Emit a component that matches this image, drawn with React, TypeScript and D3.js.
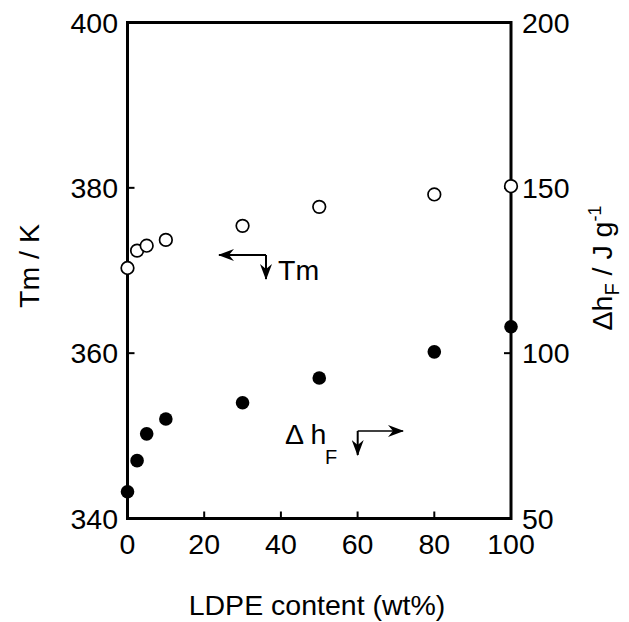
import React from "react";
import * as d3 from "d3";

const ldpe = [0, 2.5, 5, 10, 30, 50, 80, 100];
const tm = [370.3, 372.4, 373.0, 373.7, 375.4, 377.7, 379.2, 380.2];
const dh = [58.1, 67.5, 75.6, 80.1, 85.0, 92.5, 100.4, 108.0];
const xTicks = [0, 20, 40, 60, 80, 100];
const yLeftTicks = [340, 360, 380, 400];
const yRightTicks = [50, 100, 150, 200];

const W = 629;
const H = 622;
const L = 127.5, R = 511, T = 22.5, B = 518.5;
const FONT = "'Liberation Sans', Arial, Helvetica, sans-serif";

export default function App() {
  const x = d3.scaleLinear().domain([0, 100]).range([L, R]);
  const yL = d3.scaleLinear().domain([340, 400]).range([B, T]);
  const yR = d3.scaleLinear().domain([50, 200]).range([B, T]);
  const fs = 28.5;
  return (
    <svg width={W} height={H} style={{ position: "absolute", left: 0, top: 0, background: "#fff" }} fontFamily={FONT}>
      <rect x={0} y={0} width={W} height={H} fill="#fff" />
      {xTicks.slice(1, -1).map((t) => (
        <line key={"xt" + t} x1={x(t)} x2={x(t)} y1={B} y2={B - 7} stroke="#000" strokeWidth={2} />
      ))}
      {yLeftTicks.slice(1, -1).map((t) => (
        <line key={"ylt" + t} x1={L} x2={L + 7} y1={yL(t)} y2={yL(t)} stroke="#000" strokeWidth={2} />
      ))}
      {yRightTicks.slice(1, -1).map((t) => (
        <line key={"yrt" + t} x1={R} x2={R - 7} y1={yR(t)} y2={yR(t)} stroke="#000" strokeWidth={2} />
      ))}
      <rect x={L} y={T} width={R - L} height={B - T} fill="none" stroke="#000" strokeWidth={3} />
      {xTicks.map((t) => (
        <text key={"xl" + t} x={x(t)} y={554} textAnchor="middle" fontSize={fs}>{t}</text>
      ))}
      {yLeftTicks.map((t) => (
        <text key={"yll" + t} x={118} y={yL(t) + 10} textAnchor="end" fontSize={fs}>{t}</text>
      ))}
      {yRightTicks.map((t) => (
        <text key={"yrl" + t} x={522} y={yR(t) + 10} textAnchor="start" fontSize={fs}>{t}</text>
      ))}
      <text x={317} y={615} textAnchor="middle" fontSize={fs}>LDPE content (wt%)</text>
      <text transform="translate(39,266) rotate(-90)" textAnchor="middle" fontSize={fs}>Tm / K</text>
      <text transform="translate(612,268) rotate(-90)" textAnchor="middle" fontSize={fs}>
        <tspan>Δh</tspan>
        <tspan fontSize={20} dy={7}>F</tspan>
        <tspan dy={-7}> / J g</tspan>
        <tspan fontSize={18} dy={-11}>-1</tspan>
      </text>
      {ldpe.map((v, i) => (
        <circle key={"tm" + i} cx={x(v)} cy={yL(tm[i])} r={6.3} fill="#fff" stroke="#000" strokeWidth={1.7} />
      ))}
      {ldpe.map((v, i) => (
        <circle key={"dh" + i} cx={x(v)} cy={yR(dh[i])} r={6.8} fill="#000" />
      ))}
      <defs>
        <marker id="ah" viewBox="0 0 16 12" refX={15} refY={6} markerWidth={16} markerHeight={12} markerUnits="userSpaceOnUse" orient="auto">
          <path d="M0,0 L16,6 L0,12 L5,6 Z" fill="#000" />
        </marker>
      </defs>
      <path d="M266,255 L219,255" stroke="#000" strokeWidth={2} fill="none" markerEnd="url(#ah)" />
      <path d="M266,255 L266,279" stroke="#000" strokeWidth={2} fill="none" markerEnd="url(#ah)" />
      <text x={278} y={280} fontSize={fs}>Tm</text>
      <path d="M357.7,431 L403,431" stroke="#000" strokeWidth={1.6} fill="none" markerEnd="url(#ah)" />
      <path d="M357.7,431 L357.7,455" stroke="#000" strokeWidth={2} fill="none" markerEnd="url(#ah)" />
      <text x={285} y={444} fontSize={fs}>Δ h</text>
      <text x={325} y={464} fontSize={20}>F</text>
    </svg>
  );
}
